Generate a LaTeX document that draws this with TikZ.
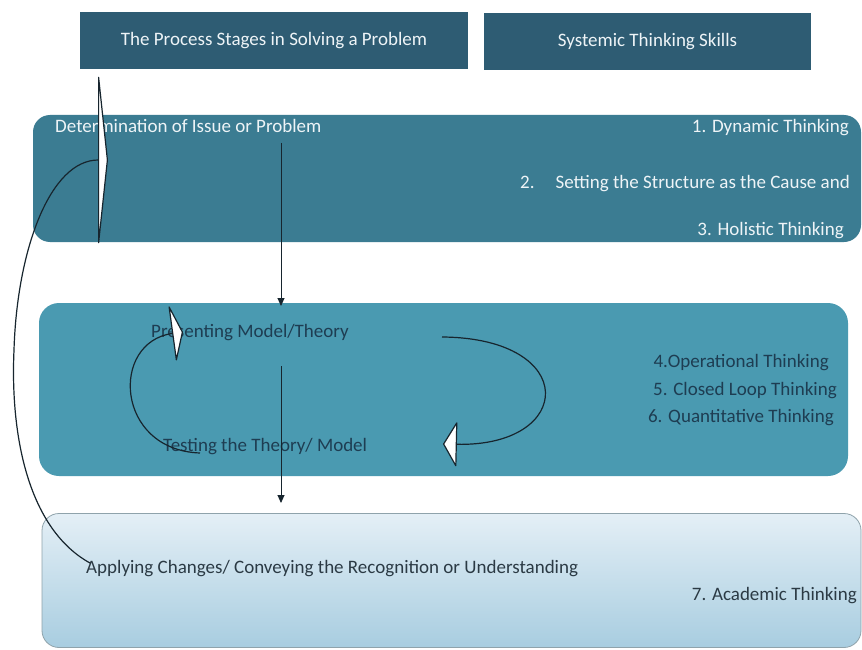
\documentclass[tikz,border=0pt]{standalone}
\usepackage{fontspec}
\setmainfont{Carlito}
\usetikzlibrary{arrows.meta}
\definecolor{hdr}{HTML}{2E5C73}
\definecolor{bone}{HTML}{3B7C92}
\definecolor{btwo}{HTML}{4A9AB1}
\definecolor{bthreetop}{HTML}{E4EFF6}
\definecolor{bthreebot}{HTML}{A8CDE0}
\definecolor{bthreeedge}{HTML}{8FA3AB}
\definecolor{txtdark}{HTML}{1E3D52}
\definecolor{txtgray}{HTML}{2B3A44}
\definecolor{txtlight}{HTML}{EEF4F7}
\definecolor{ink}{HTML}{17252E}
\newcommand\dgfont{\fontsize{19}{22}\selectfont}
\begin{document}
\begin{tikzpicture}[x=1pt,y=-1pt,
  hdrbox/.style={fill=hdr, draw=none, minimum height=57pt, inner sep=0pt, outer sep=0pt, text=txtlight, font=\dgfont},
  bigbox/.style={draw=none, inner sep=0pt, outer sep=0pt, rounded corners=17pt},
  lbl/.style={inner sep=0pt, font=\dgfont},
  lightlbl/.style={lbl, text=txtlight},
  darklbl/.style={lbl, text=txtdark},
  graylbl/.style={lbl, text=txtgray},
  downarrow/.style={draw=ink, line width=0.9pt, -{Triangle[length=8pt,width=7pt]}},
  loopline/.style={draw=ink, line width=1.2pt},
  bigtip/.style={loopline, -{Triangle[round,length=10pt,width=188pt,fill=white]}},
  lefttip/.style={loopline, -{Triangle[round,length=11pt,width=60pt,fill=white]}},
  righttip/.style={loopline, -{Triangle[round,length=14pt,width=47pt,fill=white]}}
]
\fill[white] (0,0) rectangle (862,650);
\useasboundingbox (0,0) rectangle (862,650);

% header boxes
\node[hdrbox, minimum width=388pt] (hA) at (274,41) {The Process Stages in Solving a Problem};
\node[hdrbox, minimum width=327pt] (hB) at (647.5,41.5) {Systemic Thinking Skills};

% stage boxes
\node[bigbox, fill=bone, minimum width=828pt, minimum height=127pt] (b1) at (447,178.5) {};
\node[bigbox, fill=btwo, rounded corners=20pt, minimum width=809pt, minimum height=173pt] (b2) at (443.5,389.5) {};
\node[bigbox, draw=bthreeedge, line width=0.8pt, top color=bthreetop, bottom color=bthreebot, minimum width=819pt, minimum height=134pt] (b3) at (451.5,580.5) {};

% labels box 1
\node[lightlbl, anchor=base west] (det) at (55,133) {Determination of Issue or Problem};
\node[lightlbl, anchor=base east] (dyn) at (849,133) {1. Dynamic Thinking};
\node[lightlbl, anchor=base east] (set) at (850,188) {2.\hspace{1.1em}Setting the Structure as the Cause and};
\node[lightlbl, anchor=base east] (hol) at (844,235) {3. Holistic Thinking};

% labels box 2
\node[darklbl, anchor=base west] (pres) at (151,337) {Presenting Model/Theory};
\node[darklbl, anchor=base west] (test) at (163,451) {Testing the Theory/ Model};
\node[darklbl, anchor=base east] (op) at (829,367) {4.Operational Thinking};
\node[darklbl, anchor=base east] (cl) at (837,395) {5. Closed Loop Thinking};
\node[darklbl, anchor=base east] (qt) at (834,422) {6. Quantitative Thinking};

% labels box 3
\node[graylbl, anchor=base west] (app) at (86,573) {Applying Changes/ Conveying the Recognition or Understanding};
\node[graylbl, anchor=base east] (acad) at (857,600) {7. Academic Thinking};

% vertical arrows
\coordinate (aOneS) at (281,143);
\coordinate (aOneE) at (281,306);
\coordinate (aTwoS) at (281,366);
\coordinate (aTwoE) at (281,503);
\draw[downarrow] (aOneS) -- (aOneE);
\draw[downarrow] (aTwoS) -- (aTwoE);

% loop between presenting and testing
\coordinate (sLoopS) at (200,453);
\coordinate (sLoopE) at (183,332);
\draw[lefttip] (sLoopS) .. controls (115,450) and (110,342) .. (sLoopE);

\coordinate (rLoopS) at (442,337);
\coordinate (rLoopE) at (443,444);
\draw[righttip] (rLoopS) .. controls (580,338) and (575,447) .. (rLoopE);

% big feedback arrow
\coordinate (bigS) at (90,563);
\coordinate (bigM) at (14,350);
\coordinate (bigE) at (108,160);
\draw[bigtip] (bigS) .. controls (30,530) and (10,440) .. (bigM) .. controls (17,250) and (50,160) .. (bigE);
\end{tikzpicture}
\end{document}
